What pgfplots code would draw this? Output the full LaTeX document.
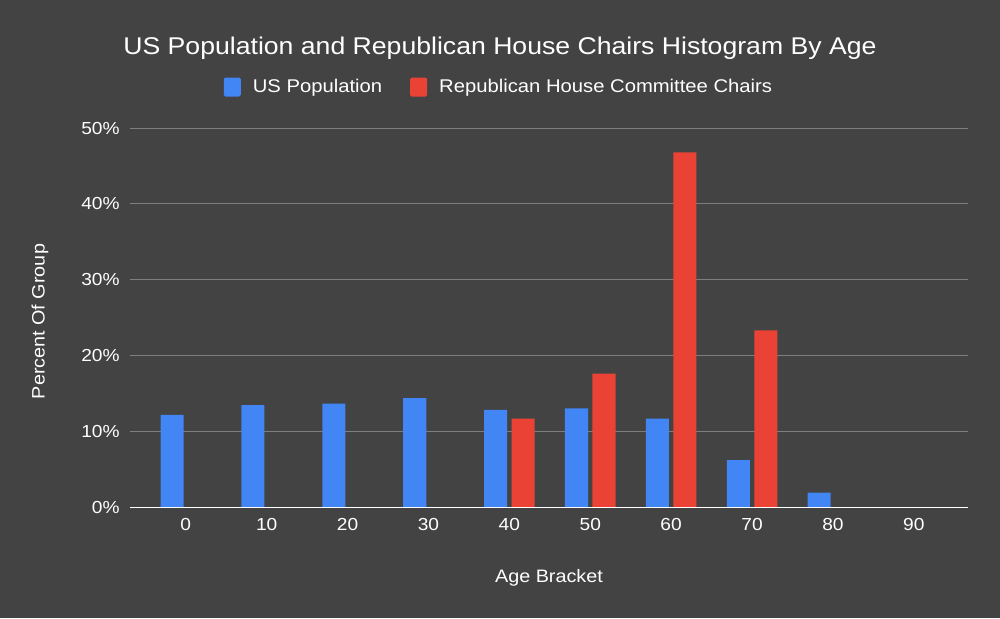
\documentclass[border=0pt]{standalone}
\usepackage{fontspec}
\setmainfont[FakeStretch=1.1]{Liberation Sans}
\usepackage{pgfplots}
\pgfplotsset{compat=1.18}
\definecolor{bgc}{HTML}{434343}
\definecolor{blueC}{HTML}{4285F4}
\definecolor{redC}{HTML}{EA4335}
\definecolor{gridc}{HTML}{7E7E7E}
\begin{document}
\begin{tikzpicture}
\path[fill=bgc, use as bounding box] (-65pt,-55.25pt) rectangle (435pt,253.75pt);
\begin{axis}[
  scale only axis,
  width=419pt, height=189.75pt,
  xmin=-0.69, xmax=9.67, ymin=0, ymax=50,
  axis line style={draw=none},
  major tick length=0pt,
  ymajorgrids,
  grid style={color=gridc, line width=0.5pt},
  ytick={0,10,...,50},
  yticklabel={\pgfmathprintnumber{\tick}\%},
  xtick={0,...,9},
  xticklabels={0,10,20,30,40,50,60,70,80,90},
  /pgf/number format/assume math mode=true,
  tick label style={font=\fontsize{8.7pt}{10pt}\selectfont, text=white},
  yticklabel style={inner sep=0pt, xshift=-5pt},
  xticklabel style={inner sep=0pt, yshift=-5pt},
  label style={font=\fontsize{9pt}{10pt}\selectfont, text=white},
  xlabel={Age Bracket},
  ylabel={Percent Of Group},
  xlabel style={at={(axis description cs:0.5,-0.1845)}, anchor=center},
  ylabel style={at={(axis description cs:-0.1074,0.49)}, anchor=center},
  every axis title shift=0pt,
  title={US Population and Republican House Chairs Histogram By Age},
  title style={at={(axis description cs:0.4415,1.2108)}, anchor=center, font=\fontsize{12.1pt}{14pt}\selectfont, text=white},
  legend style={at={(axis description cs:0.4415,1.108)}, anchor=center, draw=none, fill=none, text=white,
    font=\fontsize{9.2pt}{10pt}\selectfont, legend columns=2,
    /tikz/every odd column/.append style={column sep=4pt},
    /tikz/every even column/.append style={column sep=12pt}},
  ybar, bar width=0.285,
]
\addplot[fill=blueC, draw=none, bar shift=-0.17,
  legend image code/.code={\fill[blueC, rounded corners=0.8pt] (0pt,-4.75pt) rectangle (8.5pt,4.75pt);}]
  coordinates {(0,12.2) (1,13.5) (2,13.7) (3,14.4) (4,12.85) (5,13.05) (6,11.7) (7,6.25) (8,1.95)};
\addlegendentry{US Population}
\addplot[fill=redC, draw=none, bar shift=0.17,
  legend image code/.code={\fill[redC, rounded corners=0.8pt] (0pt,-4.75pt) rectangle (8.5pt,4.75pt);}]
  coordinates {(4,11.7) (5,17.65) (6,46.8) (7,23.35)};
\addlegendentry{Republican House Committee Chairs}
\draw[white, line width=1pt] (axis cs:-0.69,0) -- (axis cs:9.67,0);
\end{axis}
\end{tikzpicture}
\end{document}
